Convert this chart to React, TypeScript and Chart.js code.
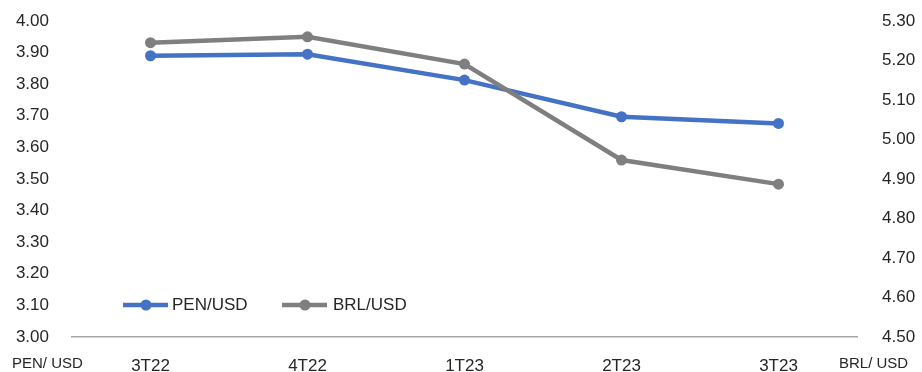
import React, { useEffect, useRef } from "react";
import { Chart, registerables } from "chart.js";
Chart.register(...registerables);

const categories = ["3T22", "4T22", "1T23", "2T23", "3T23"];
const penUsd = [3.89, 3.895, 3.813, 3.697, 3.676];
const brlUsd = [5.245, 5.26, 5.191, 4.948, 4.887];
const leftAxis = { min: 3.0, max: 4.0, step: 0.1 };
const rightAxis = { min: 4.5, max: 5.3, step: 0.1 };
const leftTitle = "PEN/ USD";
const rightTitle = "BRL/ USD";
const seriesNames = ["PEN/USD", "BRL/USD"];
const seriesColors = ["#4472C4", "#7F7F7F"];

const FONT = "'Liberation Sans', Arial, sans-serif";
const TEXT = "#262626";

const extrasPlugin = {
  id: "extras",
  afterDraw(chart: any) {
    const ctx = chart.ctx;
    ctx.save();
    // axis titles
    ctx.fillStyle = TEXT;
    ctx.font = `15px ${FONT}`;
    ctx.textBaseline = "middle";
    ctx.textAlign = "left";
    ctx.fillText(leftTitle, 12, 364);
    ctx.fillText(rightTitle, 839, 364);
    // legend
    const items = [
      { x: 123, textX: 172 },
      { x: 282, textX: 333 },
    ];
    const y = 305;
    chart.data.datasets.forEach((ds: any, i: number) => {
      const it = items[i];
      ctx.strokeStyle = ds.borderColor;
      ctx.lineWidth = 4.5;
      ctx.lineCap = "butt";
      ctx.beginPath();
      ctx.moveTo(it.x, y);
      ctx.lineTo(it.x + 45, y);
      ctx.stroke();
      ctx.fillStyle = ds.borderColor;
      ctx.beginPath();
      ctx.arc(it.x + 23, y, 5.5, 0, Math.PI * 2);
      ctx.fill();
      ctx.fillStyle = TEXT;
      ctx.font = `17px ${FONT}`;
      ctx.textAlign = "left";
      ctx.textBaseline = "middle";
      ctx.fillText(ds.label, it.textX, y);
    });
    ctx.restore();
  },
};

const fitY = (w: number) => (s: any) => {
  s.width = w;
  s.paddingTop = 0;
  s.paddingBottom = 0;
};

export default function App() {
  const ref = useRef<HTMLCanvasElement>(null);
  useEffect(() => {
    if (!ref.current) return;
    const chart = new Chart(ref.current, {
      type: "line",
      data: {
        labels: categories,
        datasets: [
          {
            label: seriesNames[0],
            data: penUsd,
            yAxisID: "y",
            borderColor: seriesColors[0],
            backgroundColor: seriesColors[0],
            borderWidth: 4.5,
            pointRadius: 5.5,
            pointBorderWidth: 0,
            tension: 0,
            order: 1,
          },
          {
            label: seriesNames[1],
            data: brlUsd,
            yAxisID: "y1",
            borderColor: seriesColors[1],
            backgroundColor: seriesColors[1],
            borderWidth: 4.5,
            pointRadius: 5.5,
            pointBorderWidth: 0,
            tension: 0,
            order: 0,
          },
        ],
      },
      options: {
        responsive: false,
        animation: false,
        layout: { padding: { top: 21, left: 0, right: 0, bottom: 0 } },
        plugins: { legend: { display: false }, tooltip: { enabled: false } },
        scales: {
          x: {
            type: "category",
            offset: true,
            grid: { display: false, drawTicks: false },
            border: { display: true, color: "#A6A6A6", width: 1.5 },
            ticks: { font: { family: FONT, size: 17 }, color: TEXT, padding: 19, maxRotation: 0 },
            afterFit: (s: any) => {
              s.height = 35;
              s.paddingLeft = 0;
              s.paddingRight = 0;
            },
          },
          y: {
            position: "left",
            min: leftAxis.min,
            max: leftAxis.max,
            grid: { display: false, drawTicks: false },
            border: { display: false },
            ticks: {
              stepSize: leftAxis.step,
              font: { family: FONT, size: 17 },
              color: TEXT,
              padding: 23,
              callback: (v: any) => Number(v).toFixed(2),
            },
            afterFit: fitY(72),
          },
          y1: {
            position: "right",
            min: rightAxis.min,
            max: rightAxis.max,
            grid: { display: false, drawTicks: false },
            border: { display: false },
            ticks: {
              stepSize: rightAxis.step,
              font: { family: FONT, size: 17 },
              color: TEXT,
              padding: 25,
              callback: (v: any) => Number(v).toFixed(2),
            },
            afterFit: fitY(65),
          },
        },
      } as any,
      plugins: [extrasPlugin],
    });
    return () => chart.destroy();
  }, []);
  return (
    <div style={{ position: "fixed", left: 0, top: 0, width: 922, height: 372, background: "#fff" }}>
      <canvas ref={ref} width={922} height={372} />
    </div>
  );
}
